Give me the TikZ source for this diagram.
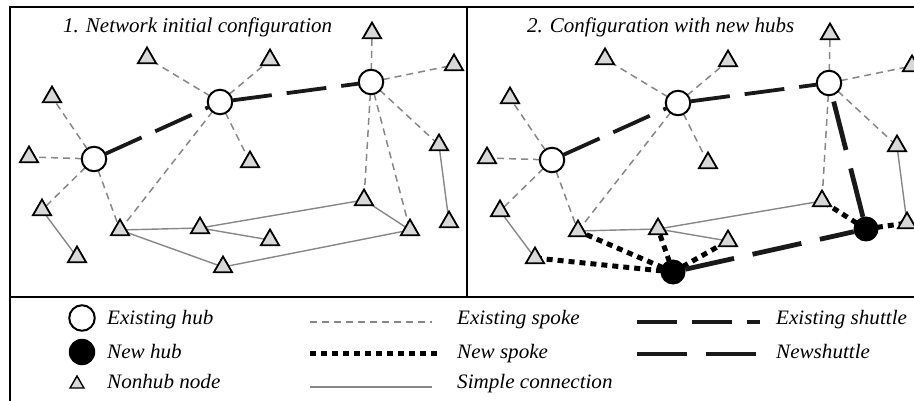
\documentclass[tikz,border=0pt]{standalone}
\usepackage{fontspec}
\setmainfont{Liberation Serif}
\newfontfamily\titlefont{Liberation Serif}
\newfontfamily\keyfont[FakeStretch=1.03]{Liberation Serif}
\usetikzlibrary{shapes.geometric}
\pgfdeclarelayer{edges}
\pgfsetlayers{edges,main}
\definecolor{linegray}{RGB}{135,135,135}
\definecolor{trifill}{RGB}{216,216,216}
\begin{document}
\begin{tikzpicture}[x=1pt,y=-1pt,
  tri/.style={regular polygon, regular polygon sides=3, minimum size=21,
    inner sep=0pt, outer sep=0pt, draw=black, line width=1.8, fill=trifill},
  hub/.style={circle, minimum size=24.5, inner sep=0pt, outer sep=0pt,
    draw=black, line width=2, fill=white},
  newhub/.style={circle, minimum size=25, inner sep=0pt, outer sep=0pt, fill=black},
  spoke/.style={draw=linegray, line width=1.5, dash pattern=on 7 off 5},
  simple/.style={draw=linegray, line width=1.4},
  newspoke/.style={draw=black, line width=5, dash pattern=on 6 off 5},
  shuttle/.style={draw=black!90, line width=3.8, dash pattern=on 40 off 15},
  newshuttle/.style={draw=black!90, line width=4.8, dash pattern=on 50 off 19},
  title/.style={anchor=base west, inner sep=0pt, font=\titlefont\itshape\fontsize{21}{25}\selectfont},
  keytext/.style={anchor=base west, inner sep=0pt, font=\keyfont\itshape\fontsize{20.5}{24}\selectfont}]
\useasboundingbox (0,0) rectangle (914,401);

% frame
\draw[line width=2] (10,401) -- (10,7) -- (914,7);
\draw[line width=2.5] (10,297) -- (914,297);
\draw[line width=2] (467,7) -- (467,297);

% titles
\node[title] (title1) at (63,33) {1. Network initial configuration};
\node[title] (title2) at (527,33) {2. Configuration with new hubs};

% ---------- panel 1: initial network ----------
\foreach \n/\x/\y in {a/147/58, b/270/60, c/372/33, d/454/65, e/52/97, f/29/157,
    g/250/162, h/439/145, i/42/210, j/120/230, k/200/228, l/270/240, m/364/200,
    n/410/230, o/449/222, p/77/257, q/223/267}
  \node[tri] (L\n) at (\x,\y) {};
\node[hub] (LH1) at (94,159) {};
\node[hub] (LH2) at (220,102) {};
\node[hub] (LH3) at (371,82) {};

\begin{pgfonlayer}{edges}
  \foreach \h/\t in {H1/e, H1/f, H1/i, H1/j, H2/a, H2/b, H2/g, H2/j,
      H3/c, H3/d, H3/h, H3/m, H3/n}
    \draw[spoke] (L\h.center) -- (L\t.center);
  \foreach \s/\t in {i/p, j/k, j/q, k/m, k/l, m/n, q/n, h/o}
    \draw[simple] (L\s.center) -- (L\t.center);
\end{pgfonlayer}
\draw[shuttle] (LH1) -- (LH2);
\draw[shuttle] (LH2) -- (LH3);

% ---------- panel 2: network with new hubs ----------
\foreach \n/\x/\y in {a/147/58, b/270/60, c/372/33, d/454/65, e/52/97, f/29/157,
    g/250/162, h/439/145, i/42/210, j/120/230, k/200/228, l/270/240, m/364/200,
    o/449/222, p/77/257}
  \node[tri] (R\n) at (\x+458,\y+1) {};
\node[hub] (RH1) at (552,160) {};
\node[hub] (RH2) at (678,103) {};
\node[hub] (RH3) at (829,83) {};
\node[newhub] (RN1) at (673,272) {};
\node[newhub] (RN2) at (866,229) {};

\begin{pgfonlayer}{edges}
  \foreach \h/\t in {H1/e, H1/f, H1/i, H1/j, H2/a, H2/b, H2/g, H2/j,
      H3/c, H3/d, H3/h, H3/m}
    \draw[spoke] (R\h.center) -- (R\t.center);
  \foreach \s/\t in {i/p, j/k, k/m, k/l, h/o}
    \draw[simple] (R\s.center) -- (R\t.center);
  \foreach \t in {j, p, k, l}
    \draw[newspoke] (RN1.center) -- (R\t.center);
  \foreach \t in {m, o}
    \draw[newspoke] (RN2.center) -- (R\t.center);
\end{pgfonlayer}
\draw[shuttle] (RH1) -- (RH2);
\draw[shuttle] (RH2) -- (RH3);
\draw[newshuttle] (RN2) -- (RH3);
\draw[newshuttle] (RN1) -- (RN2);

% ---------- legend ----------
\node[hub, minimum size=25.5] (kHub) at (82,318) {};
\node[newhub, minimum size=26.5] (kNew) at (82,352) {};
\node[tri, minimum size=16, line width=1.4] (kTri) at (77,384) {};
\node[keytext] (tHub) at (107,324) {Existing hub};
\node[keytext] (tNew) at (107,358) {New hub};
\node[keytext] (tTri) at (107,388) {Nonhub node};

\coordinate (s1a) at (310,322); \coordinate (s1b) at (432,322);
\coordinate (s2a) at (310,353); \coordinate (s2b) at (440,353);
\coordinate (s3a) at (310,387); \coordinate (s3b) at (432,387);
\draw[spoke] (s1a) -- (s1b);
\draw[newspoke] (s2a) -- (s2b);
\draw[simple] (s3a) -- (s3b);
\node[keytext] (tSpoke) at (457,324) {Existing spoke};
\node[keytext] (tNewSpoke) at (457,358) {New spoke};
\node[keytext] (tSimple) at (457,388) {Simple connection};

\coordinate (u1a) at (637,322); \coordinate (u1b) at (760,322);
\coordinate (u2a) at (637,354); \coordinate (u2b) at (756,354);
\draw[shuttle] (u1a) -- (u1b);
\draw[newshuttle] (u2a) -- (u2b);
\node[keytext] (tShuttle) at (776,324) {Existing shuttle};
\node[keytext] (tNewShuttle) at (776,358) {Newshuttle};
\end{tikzpicture}
\end{document}
